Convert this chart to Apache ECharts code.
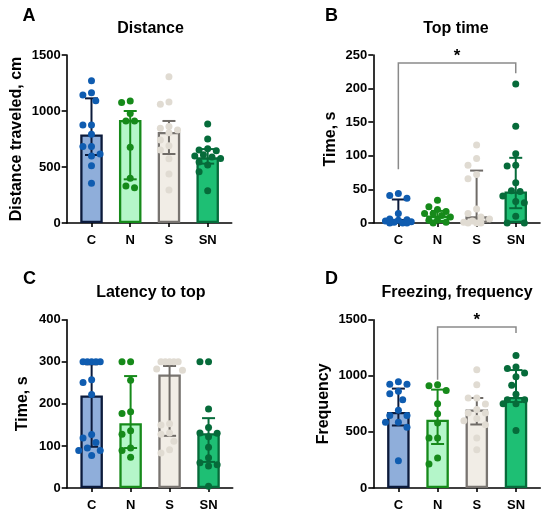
<!DOCTYPE html>
<html><head><meta charset="utf-8">
<script src="https://cdn.jsdelivr.net/npm/echarts@6/dist/echarts.min.js"></script>
<style>html,body{margin:0;padding:0;background:#fff}#c{width:550px;height:517px}</style>
</head><body><div id="c"></div>
<script>
const categories = ['C', 'N', 'S', 'SN'];

// A: Distance (median, IQR, individual animals)
const distanceMedian = [790, 920, 812, 586];
const distanceLow = [607, 390, 616, 530];
const distanceHigh = [1113, 1000, 911, 660];
const distanceC = [1271, 1164, 1143, 1092, 875, 875, 792, 682, 682, 616, 598, 512, 354];
const distanceN = [1089, 1077, 978, 911, 911, 676, 399, 330, 315];
const distanceS = [1306, 1080, 1060, 862, 845, 830, 806, 741, 690, 652, 574, 437, 295];
const distanceSN = [884, 750, 664, 652, 646, 610, 598, 590, 577, 545, 518, 458, 289];

// B: Top time
const topMedian = [6, 11, 10, 47];
const topLow = [1, 3, 1, 22];
const topHigh = [35, 18, 78, 97];
const topC = [44, 41, 37, 14, 6, 5, 4, 3, 2, 1, 0, 0, 0];
const topN = [34, 24, 20, 17, 14, 14, 11, 9, 4, 4, 1, 0];
const topS = [116, 96, 86, 72, 66, 21, 14, 9, 6, 3, 1, 0, 0, 0];
const topSN = [207, 144, 103, 86, 85, 60, 48, 47, 40, 32, 30, 10, 0, 0];
const topBracket = [0, 3, 238, 80, 223];

// C: Latency to top
const latencyMedian = [220, 154, 270, 130];
const latencyLow = [98, 95, 124, 62];
const latencyHigh = [294, 266, 290, 166];
const latencyC = [300, 300, 300, 300, 300, 257, 251, 222, 127, 119, 108, 95, 89, 89, 77];
const latencyN = [300, 300, 256, 181, 177, 136, 128, 95, 89, 73];
const latencyS = [300, 300, 300, 300, 300, 283, 280, 153, 150, 131, 128, 111, 91, 83];
const latencySN = [300, 300, 188, 144, 131, 130, 122, 97, 72, 60, 55, 52, 4];

// D: Freezing, frequency
const freezeMedian = [677, 608, 700, 811];
const freezeLow = [557, 392, 566, 766];
const freezeHigh = [886, 877, 802, 1051];
const freezeC = [946, 925, 925, 862, 841, 787, 692, 647, 647, 587, 587, 542, 243];
const freezeN = [921, 912, 870, 751, 662, 579, 446, 446, 267, 214];
const freezeS = [1054, 921, 802, 802, 748, 700, 668, 668, 620, 600, 564, 446, 342];
const freezeSN = [1180, 1078, 1066, 1025, 991, 916, 835, 787, 787, 751, 751, 512];
const freezeBracket = [1, 3, 1435, 965, 1381];

const sigLabel = '*';
const panelLetters = ['A', 'B', 'C', 'D'];
const panelTitles = ['Distance', 'Top time', 'Latency to top', 'Freezing, frequency'];
const yNames = ['Distance traveled, cm', 'Time, s', 'Time, s', 'Frequency'];
const yMax = [1500, 250, 400, 1500];
const yStep = [500, 50, 100, 500];

// styles
const FONT = '"Liberation Sans", Arial, sans-serif';
const barFill = ['#8FAEDA', '#B4F6C9', '#F1EDE6', '#1EBF74'];
const barBorder = ['#0B1A3B', '#168A1A', '#787470', '#066B3A'];
const errColor = ['#0B1A3B', '#168A1A', '#6F6B67', '#066B3A'];
const dotColor = ['#0F5CB0', '#168A1A', '#E0DBD2', '#066B3A'];
const X_MIN = -0.64, X_MAX = 3.62;
const grids = [
  {left: 66.7, top: 55, width: 165, height: 168},
  {left: 373.3, top: 55, width: 166.7, height: 168},
  {left: 66.7, top: 319.7, width: 166, height: 168.3},
  {left: 373.3, top: 319.7, width: 167, height: 168.3}
];
const nameGaps = [42, 35, 36, 42];

const medians = [distanceMedian, topMedian, latencyMedian, freezeMedian];
const lows = [distanceLow, topLow, latencyLow, freezeLow];
const highs = [distanceHigh, topHigh, latencyHigh, freezeHigh];
const points = [
  [distanceC, distanceN, distanceS, distanceSN],
  [topC, topN, topS, topSN],
  [latencyC, latencyN, latencyS, latencySN],
  [freezeC, freezeN, freezeS, freezeSN]
];
const brackets = [null, topBracket, null, freezeBracket];

// simple beeswarm: spread points horizontally so dots do not overlap
function swarm(values, cat, pxPerUnit, pxPerCat) {
  const d = 8.6, step = 4.3, cap = 13;
  const order = values.map((v, i) => i).sort((a, b) => values[b] - values[a]);
  const placed = [];
  const out = new Array(values.length);
  order.forEach(i => {
    const y = values[i] * pxPerUnit;
    let best = null, bestScore = -1;
    for (let k = 0; k < 40; k++) {
      const off = k === 0 ? 0 : (k % 2 ? -1 : 1) * Math.ceil(k / 2) * step;
      if (Math.abs(off) > cap) break;
      const m = placed.length ? Math.min(...placed.map(p => Math.hypot(p[0] - off, p[1] - y))) : 1e9;
      if (m >= d) { best = off; break; }
      if (m > bestScore) { bestScore = m; best = off; }
    }
    placed.push([best, y]);
    out[i] = [cat + best / pxPerCat, values[i]];
  });
  return out;
}

const option = {
  animation: false,
  backgroundColor: '#fff',
  grid: grids.map(g => Object.assign({containLabel: false}, g)),
  xAxis: grids.map((g, i) => ({
    type: 'value', gridIndex: i, min: X_MIN, max: X_MAX,
    splitLine: {show: false},
    axisLine: {show: true, onZero: false, lineStyle: {color: '#000', width: 1.6}},
    axisTick: {show: true, customValues: [0, 1, 2, 3], length: 4, lineStyle: {color: '#000', width: 1.6}},
    axisLabel: {customValues: [0, 1, 2, 3], formatter: v => categories[Math.round(v)], color: '#000',
      fontFamily: FONT, fontWeight: 'bold', fontSize: 13, margin: 11}
  })),
  yAxis: grids.map((g, i) => ({
    type: 'value', gridIndex: i, min: 0, max: yMax[i], interval: yStep[i],
    name: yNames[i], nameLocation: 'middle', nameGap: nameGaps[i],
    nameTextStyle: {color: '#000', fontFamily: FONT, fontWeight: 'bold', fontSize: 16},
    splitLine: {show: false},
    axisLine: {show: true, onZero: false, lineStyle: {color: '#000', width: 1.6}},
    axisTick: {show: true, length: 5, lineStyle: {color: '#000', width: 1.6}},
    axisLabel: {color: '#000', fontFamily: FONT, fontWeight: 'bold', fontSize: 13, margin: 6,
      formatter: v => String(v)}
  })),
  graphic: [],
  series: []
};

const letterPos = [[22.5, 7], [325, 7], [23, 270.5], [325, 270.5]];
const titlePos = [[150.5, 20.5], [456, 20.5], [150.8, 285], [457, 285]];
panelLetters.forEach((t, i) => {
  option.graphic.push({type: 'text', x: letterPos[i][0], y: letterPos[i][1],
    style: {text: t, font: 'bold 18px ' + FONT, fill: '#000', align: 'left', verticalAlign: 'top'}});
  option.graphic.push({type: 'text', x: titlePos[i][0], y: titlePos[i][1],
    style: {text: panelTitles[i], font: 'bold 16px ' + FONT, fill: '#000', align: 'center', verticalAlign: 'top'}});
});

grids.forEach((g, p) => {
  option.series.push({
    type: 'bar', xAxisIndex: p, yAxisIndex: p, barWidth: 22.5, z: 2,
    data: medians[p].map((v, i) => ({value: [i, v],
      itemStyle: {color: barFill[i], borderColor: barBorder[i], borderWidth: 2.3}}))
  });
  option.series.push({
    type: 'custom', xAxisIndex: p, yAxisIndex: p, z: 3,
    data: medians[p].map((v, i) => [i, lows[p][i], highs[p][i], i]),
    renderItem: (params, api) => {
      const x = api.value(0);
      const a = api.coord([x, api.value(1)]);
      const b = api.coord([x, api.value(2)]);
      const c = errColor[api.value(3)];
      const w = 6.5;
      const st = {stroke: c, lineWidth: 2};
      return {type: 'group', children: [
        {type: 'line', shape: {x1: a[0], y1: a[1], x2: b[0], y2: b[1]}, style: st},
        {type: 'line', shape: {x1: b[0] - w, y1: b[1], x2: b[0] + w, y2: b[1]}, style: st},
        {type: 'line', shape: {x1: a[0] - w, y1: a[1], x2: a[0] + w, y2: a[1]}, style: st}
      ]};
    }
  });
  const pxPerUnit = g.height / yMax[p];
  const pxPerCat = g.width / (X_MAX - X_MIN);
  points[p].forEach((vals, i) => {
    option.series.push({
      type: 'scatter', xAxisIndex: p, yAxisIndex: p, z: 4, symbolSize: 7,
      itemStyle: {color: dotColor[i], opacity: 1},
      data: swarm(vals, i, pxPerUnit, pxPerCat)
    });
  });
  if (brackets[p]) {
    option.series.push({
      type: 'custom', xAxisIndex: p, yAxisIndex: p, z: 5, clip: false,
      data: [brackets[p]],
      renderItem: (params, api) => {
        const x1 = api.value(0), x2 = api.value(1), top = api.value(2);
        const l = api.coord([x1, api.value(3)]);
        const t1 = api.coord([x1, top]);
        const t2 = api.coord([x2, top]);
        const r = api.coord([x2, api.value(4)]);
        return {type: 'group', children: [
          {type: 'polyline', shape: {points: [l, t1, t2, r]}, style: {stroke: '#8A8A8A', lineWidth: 1.5, fill: null}},
          {type: 'text', style: {text: sigLabel, x: (t1[0] + t2[0]) / 2, y: t1[1] - 7,
            align: 'center', verticalAlign: 'middle', font: 'bold 17px ' + FONT, fill: '#000'}}
        ]};
      }
    });
  }
});

const chart = echarts.init(document.getElementById('c'), null, {renderer: 'canvas'});
chart.setOption(option);
</script>
</body></html>
